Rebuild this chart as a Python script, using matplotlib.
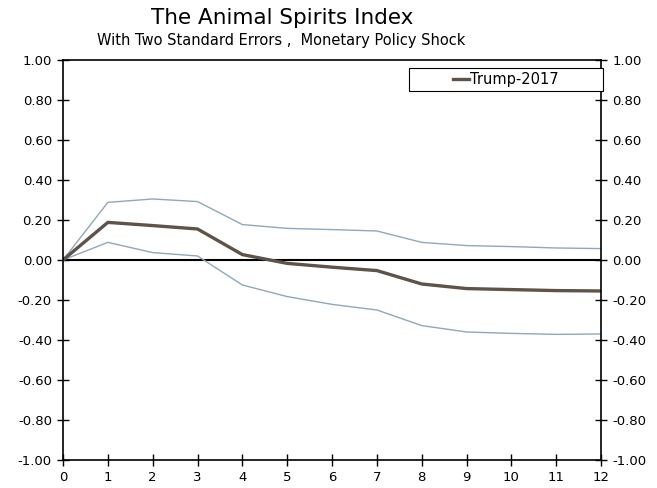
import matplotlib.pyplot as plt
from matplotlib.patches import Rectangle

# impulse response of the animal spirits index, with +/- two standard errors
horizon = [0, 1, 2, 3, 4, 5, 6, 7, 8, 9, 10, 11, 12]
trump_2017 = [0.0, 0.188, 0.172, 0.155, 0.027, -0.017, -0.036, -0.053,
              -0.120, -0.143, -0.148, -0.153, -0.155]
upper_band = [0.0, 0.288, 0.305, 0.292, 0.177, 0.158, 0.152, 0.145,
              0.088, 0.072, 0.067, 0.060, 0.057]
lower_band = [0.0, 0.088, 0.037, 0.020, -0.125, -0.183, -0.222, -0.250,
              -0.328, -0.360, -0.367, -0.372, -0.370]
yticks = [-1.0, -0.8, -0.6, -0.4, -0.2, 0.0, 0.2, 0.4, 0.6, 0.8, 1.0]

plt.rcParams['font.family'] = ['DejaVu Sans']

fig = plt.figure(figsize=(6.57, 4.88), dpi=100)
ax = fig.add_axes([0.0959, 0.0574, 0.819, 0.8197])

ax.axhline(0, color='black', lw=1.5, zorder=1)
ax.plot(horizon, upper_band, color='#8fa8ba', lw=1.0)
ax.plot(horizon, lower_band, color='#8fa8ba', lw=1.0)
ax.plot(horizon, trump_2017, color='#5e5249', lw=2.4, label='Trump-2017')

ax.set_xlim(0, 12)
ax.set_ylim(-1, 1)
ax.set_xticks(horizon)
ax.set_yticks(yticks)
ax.set_yticklabels(['%.2f' % v for v in yticks])
ax.tick_params(direction='inout', length=8, width=1, labelsize=9.5,
               right=True, labelright=True, pad=4)
for s in ax.spines.values():
    s.set_linewidth(1.2)

# wide legend box in the upper right corner
ax.add_patch(Rectangle((0.643, 0.9225), 0.36, 0.0575, transform=ax.transAxes,
                       facecolor='white', edgecolor='black', lw=0.8,
                       clip_on=False, zorder=3))
ax.legend(loc='center', bbox_to_anchor=(0.8225, 0.951), fontsize=10.5,
          handlelength=1.1, handletextpad=0.1, borderpad=0, frameon=False,
          borderaxespad=0).set_zorder(4)

fig.text(0.43, 0.963, 'The Animal Spirits Index', ha='center', va='center',
         fontsize=15.5)
fig.text(0.428, 0.918, 'With Two Standard Errors ,  Monetary Policy Shock',
         ha='center', va='center', fontsize=10.5)

fig.savefig('out.png', dpi=100)
